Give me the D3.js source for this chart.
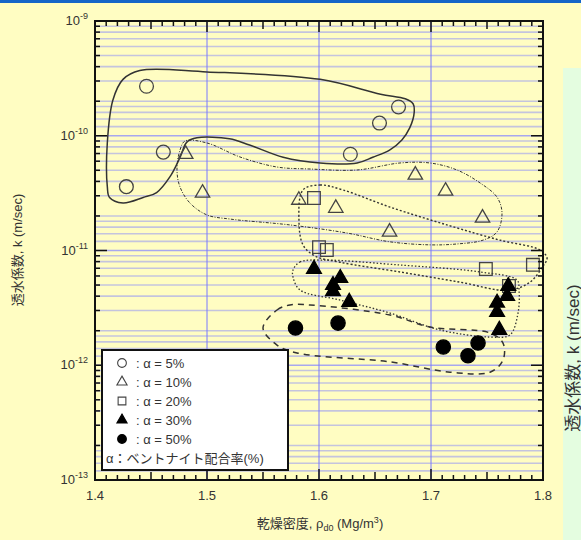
<!DOCTYPE html>
<html>
<head>
<meta charset="utf-8">
<script src="https://cdn.jsdelivr.net/npm/d3@7"></script>
<style>
  html, body { margin: 0; padding: 0; background: #fffdc2; }
  svg { display: block; }
  text { font-family: "Liberation Sans", Arial, "Noto Sans CJK JP", sans-serif; fill: #333; }
</style>
</head>
<body>
<svg id="chart" width="581" height="540"></svg>
<script>
// Dry density (Mg/m3) and hydraulic conductivity k (m/sec) by bentonite ratio
const dens05 = [1.446, 1.461, 1.428, 1.628, 1.671, 1.654];
const k05    = [2.7e-10, 7.2e-11, 3.6e-11, 6.9e-11, 1.78e-10, 1.29e-10];

const dens10 = [1.481, 1.496, 1.582, 1.615, 1.686, 1.713, 1.663, 1.746];
const k10    = [6.9e-11, 3.17e-11, 2.75e-11, 2.34e-11, 4.55e-11, 3.3e-11, 1.45e-11, 1.92e-11];

const dens20 = [1.5955, 1.600, 1.607, 1.749, 1.791, 1.7696];
const k20    = [2.87e-11, 1.07e-11, 1.01e-11, 6.9e-12, 7.5e-12, 4.9e-12];

const dens30 = [1.5955, 1.619, 1.6125, 1.6125, 1.627, 1.769, 1.768, 1.759, 1.759, 1.761];
const k30    = [6.9e-12, 5.75e-12, 5.0e-12, 4.4e-12, 3.56e-12, 4.9e-12, 4.0e-12, 3.5e-12, 2.9e-12, 2.03e-12];

const dens50 = [1.579, 1.617, 1.711, 1.733, 1.742];
const k50    = [2.11e-12, 2.33e-12, 1.44e-12, 1.21e-12, 1.56e-12];

// Hand-drawn group outlines, as [density, k] pairs
const zone05 = [[1.440,3.7e-10],[1.500,3.6e-10],[1.601,3.1e-10],[1.655,2.3e-10],[1.677,2.1e-10],[1.684,1.9e-10],[1.685,1.6e-10],[1.681,1.17e-10],[1.674,9.2e-11],[1.663,7.5e-11],[1.648,6.5e-11],[1.634,5.8e-11],[1.601,5.8e-11],[1.568,6.5e-11],[1.538,8.3e-11],[1.520,9.4e-11],[1.491,9.6e-11],[1.482,8.8e-11],[1.476,6.5e-11],[1.467,4.4e-11],[1.455,3.2e-11],[1.443,2.9e-11],[1.425,2.6e-11],[1.413,2.9e-11],[1.411,3.6e-11],[1.411,8.7e-11],[1.416,2.05e-10],[1.425,3.1e-10]];
const zone10 = [[1.4804,9.0e-11],[1.500,8.65e-11],[1.5295,6.53e-11],[1.5625,5.34e-11],[1.592,5.13e-11],[1.634,5.03e-11],[1.6723,5.79e-11],[1.6991,5.79e-11],[1.7232,5.03e-11],[1.7438,3.88e-11],[1.7589,2.92e-11],[1.7634,2.12e-11],[1.7589,1.45e-11],[1.7464,1.23e-11],[1.7232,1.14e-11],[1.6991,1.12e-11],[1.6634,1.19e-11],[1.625,1.42e-11],[1.5741,1.67e-11],[1.5205,1.88e-11],[1.500,2.04e-11],[1.4848,2.59e-11],[1.4759,3.58e-11],[1.4732,5.03e-11],[1.4759,7.5e-11]];
const zone20 = [[1.5857,3.37e-11],[1.6009,3.72e-11],[1.6214,3.37e-11],[1.6634,2.39e-11],[1.717,1.64e-11],[1.7616,1.23e-11],[1.7973,1.01e-11],[1.8036,8.6e-12],[1.800,7.3e-12],[1.7884,5.3e-12],[1.7688,4.5e-12],[1.7259,5.3e-12],[1.6723,6.5e-12],[1.6188,7.9e-12],[1.5964,8.95e-12],[1.5857,1.12e-11],[1.5821,1.84e-11]];
const zone30 = [[1.5768,6.77e-12],[1.583,7.94e-12],[1.6036,8.26e-12],[1.6723,7.47e-12],[1.7438,6.5e-12],[1.7768,5.53e-12],[1.7786,4.53e-12],[1.7777,2.85e-12],[1.7705,1.84e-12],[1.7527,1.76e-12],[1.708,2.03e-12],[1.6634,2.85e-12],[1.6188,3.7e-12],[1.583,4.53e-12],[1.5768,5.87e-12]];
const zone50 = [[1.55,2.11e-12],[1.5625,3.03e-12],[1.5741,3.35e-12],[1.592,3.35e-12],[1.6634,2.74e-12],[1.6991,2.15e-12],[1.7527,1.91e-12],[1.7643,1.56e-12],[1.7643,1.11e-12],[1.7527,8.7e-13],[1.717,8.7e-13],[1.6634,1.07e-12],[1.5804,1.28e-12],[1.5625,1.5e-12]];

const xTicks = [1.4, 1.5, 1.6, 1.7, 1.8];
const yDecades = [-9, -10, -11, -12, -13];
const legendLabels = [": α = 5%", ": α = 10%", ": α = 20%", ": α = 30%", ": α = 50%"];
const legendNote = "α：ベントナイト配合率(%)";
const xTitle = "乾燥密度, ρ";
const yTitle = "透水係数, k (m/sec)";

const svg = d3.select("#chart");
const L = 95, R = 543, T = 21, B = 480;

// page furniture: top bar and the neighbouring panel on the right
svg.append("rect").attr("x", 0).attr("y", 0).attr("width", 581).attr("height", 3).attr("fill", "#1565c8");
svg.append("rect").attr("x", 563).attr("y", 68).attr("width", 18).attr("height", 472).attr("fill", "#e4fde0");
svg.append("text")
  .attr("transform", "translate(579,358) rotate(-90)")
  .attr("text-anchor", "middle")
  .style("font-size", "17px").style("fill", "#333")
  .text(yTitle);

const x = d3.scaleLinear().domain([1.4, 1.8]).range([L, R]);
const y = d3.scaleLog().domain([1e-13, 1e-9]).range([B, T]);

// grid
const gridVals = [];
for (let d = -13; d < -9; d++) {
  [1.2, 1.4, 1.6, 1.8, 2, 3, 4, 5, 6, 7, 8, 9].forEach(m => gridVals.push(m * Math.pow(10, d)));
}
const grid = svg.append("g");
grid.selectAll("line.h").data(gridVals).join("line")
  .attr("x1", L).attr("x2", R)
  .attr("y1", d => y(d)).attr("y2", d => y(d))
  .attr("stroke", "#c4c4de").attr("stroke-width", 1.6);
grid.selectAll("line.d").data([1e-10, 1e-11, 1e-12]).join("line")
  .attr("x1", L).attr("x2", R)
  .attr("y1", d => y(d)).attr("y2", d => y(d))
  .attr("stroke", "#a8a8ee").attr("stroke-width", 1.6);
grid.selectAll("line.v").data([1.5, 1.6, 1.7]).join("line")
  .attr("x1", d => x(d)).attr("x2", d => x(d))
  .attr("y1", T).attr("y2", B)
  .attr("stroke", "#7878ff").attr("stroke-width", 1);

// group outlines
const outline = d3.line().x(d => x(d[0])).y(d => y(d[1])).curve(d3.curveCatmullRomClosed.alpha(0.5));
const zones = [
  { pts: zone05, dash: null, w: 1.5 },
  { pts: zone10, dash: "3,1.5,1,1.5", w: 1 },
  { pts: zone20, dash: "2,2", w: 1.4 },
  { pts: zone30, dash: "1.5,2", w: 1.3 },
  { pts: zone50, dash: "6,5", w: 1.5 }
];
svg.append("g").selectAll("path").data(zones).join("path")
  .attr("d", d => outline(d.pts))
  .attr("fill", "none")
  .attr("stroke", "#333")
  .attr("stroke-width", d => d.w)
  .attr("stroke-dasharray", d => d.dash);

// markers
const series = [
  { xs: dens05, ks: k05, type: d3.symbolCircle, size: 150, fill: "none" },
  { xs: dens10, ks: k10, type: d3.symbolTriangle, size: 90, fill: "none" },
  { xs: dens20, ks: k20, type: d3.symbolSquare, size: 160, fill: "none" },
  { xs: dens30, ks: k30, type: d3.symbolTriangle, size: 95, fill: "#000" },
  { xs: dens50, ks: k50, type: d3.symbolCircle, size: 160, fill: "#000" }
];
const marks = svg.append("g");
series.forEach(s => {
  marks.append("g").selectAll("path").data(s.xs.map((v, i) => [v, s.ks[i]])).join("path")
    .attr("transform", d => `translate(${x(d[0])},${y(d[1])})`)
    .attr("d", d3.symbol().type(s.type).size(s.size))
    .attr("fill", s.fill)
    .attr("stroke", s.fill === "none" ? "#444" : "#000")
    .attr("stroke-width", 1.3);
});

// frame and ticks
const axes = svg.append("g").attr("stroke", "#111");
const xMinor = d3.range(1.4, 1.8001, 0.01).map(v => +v.toFixed(2));
function xTickLen(v) {
  const r = Math.round(v * 100);
  return r % 10 === 0 ? 11 : (r % 5 === 0 ? 8 : 5);
}
axes.selectAll("line.xb").data(xMinor).join("line")
  .attr("x1", d => x(d)).attr("x2", d => x(d))
  .attr("y1", B).attr("y2", d => B - xTickLen(d)).attr("stroke-width", 1.5);
axes.selectAll("line.xt").data(xMinor).join("line")
  .attr("x1", d => x(d)).attr("x2", d => x(d))
  .attr("y1", T).attr("y2", d => T + xTickLen(d)).attr("stroke-width", 1.5);

const yMinor = [];
for (let d = -13; d < -9; d++) {
  for (let m = 1; m <= 9; m++) yMinor.push({ v: m * Math.pow(10, d), major: m === 1 });
}
yMinor.push({ v: 1e-9, major: true });
axes.selectAll("line.yl").data(yMinor).join("line")
  .attr("x1", L).attr("x2", d => L + (d.major ? 12 : 5))
  .attr("y1", d => y(d.v)).attr("y2", d => y(d.v)).attr("stroke-width", 1.5);
axes.selectAll("line.yr").data(yMinor).join("line")
  .attr("x1", R).attr("x2", d => R - (d.major ? 12 : 5))
  .attr("y1", d => y(d.v)).attr("y2", d => y(d.v)).attr("stroke-width", 1.5);

svg.append("rect").attr("x", L).attr("y", T).attr("width", R - L).attr("height", B - T)
  .attr("fill", "none").attr("stroke", "#111").attr("stroke-width", 2);

// tick labels
svg.append("g").selectAll("text").data(xTicks).join("text")
  .attr("x", d => x(d)).attr("y", 500)
  .attr("text-anchor", "middle")
  .style("font-size", "13px")
  .text(d => d.toFixed(1));

const yl = svg.append("g").selectAll("text").data(yDecades).join("text")
  .attr("x", 88).attr("y", d => y(Math.pow(10, d)) + 4)
  .attr("text-anchor", "end")
  .style("font-size", "13px");
yl.append("tspan").text("10");
yl.append("tspan").attr("dy", -6).style("font-size", "9px").text(d => "-" + (-d));

// axis titles
const xt = svg.append("text").attr("x", 320).attr("y", 528).attr("text-anchor", "middle").style("font-size", "13px");
xt.append("tspan").text(xTitle);
xt.append("tspan").attr("dy", 3).style("font-size", "9px").text("d0");
xt.append("tspan").attr("dy", -3).text(" (Mg/m");
xt.append("tspan").attr("dy", -5).style("font-size", "9px").text("3");
xt.append("tspan").attr("dy", 5).text(")");

svg.append("text")
  .attr("transform", "translate(22,250) rotate(-90)")
  .attr("text-anchor", "middle")
  .style("font-size", "13px")
  .text(yTitle);

// legend
const lg = svg.append("g");
lg.append("rect").attr("x", 102).attr("y", 350).attr("width", 186).attr("height", 120)
  .attr("fill", "#fff").attr("stroke", "#111").attr("stroke-width", 2);
series.forEach((s, i) => {
  const cy = 363 + i * 19;
  lg.append("path")
    .attr("transform", `translate(122,${cy})`)
    .attr("d", d3.symbol().type(s.type).size(s.type === d3.symbolTriangle ? 45 : 60))
    .attr("fill", s.fill)
    .attr("stroke", s.fill === "none" ? "#444" : "#000")
    .attr("stroke-width", 1.1);
  lg.append("text").attr("x", 136).attr("y", cy + 5).style("font-size", "13px").text(legendLabels[i]);
});
lg.append("text").attr("x", 106).attr("y", 463).style("font-size", "13px").text(legendNote);
</script>
</body>
</html>
